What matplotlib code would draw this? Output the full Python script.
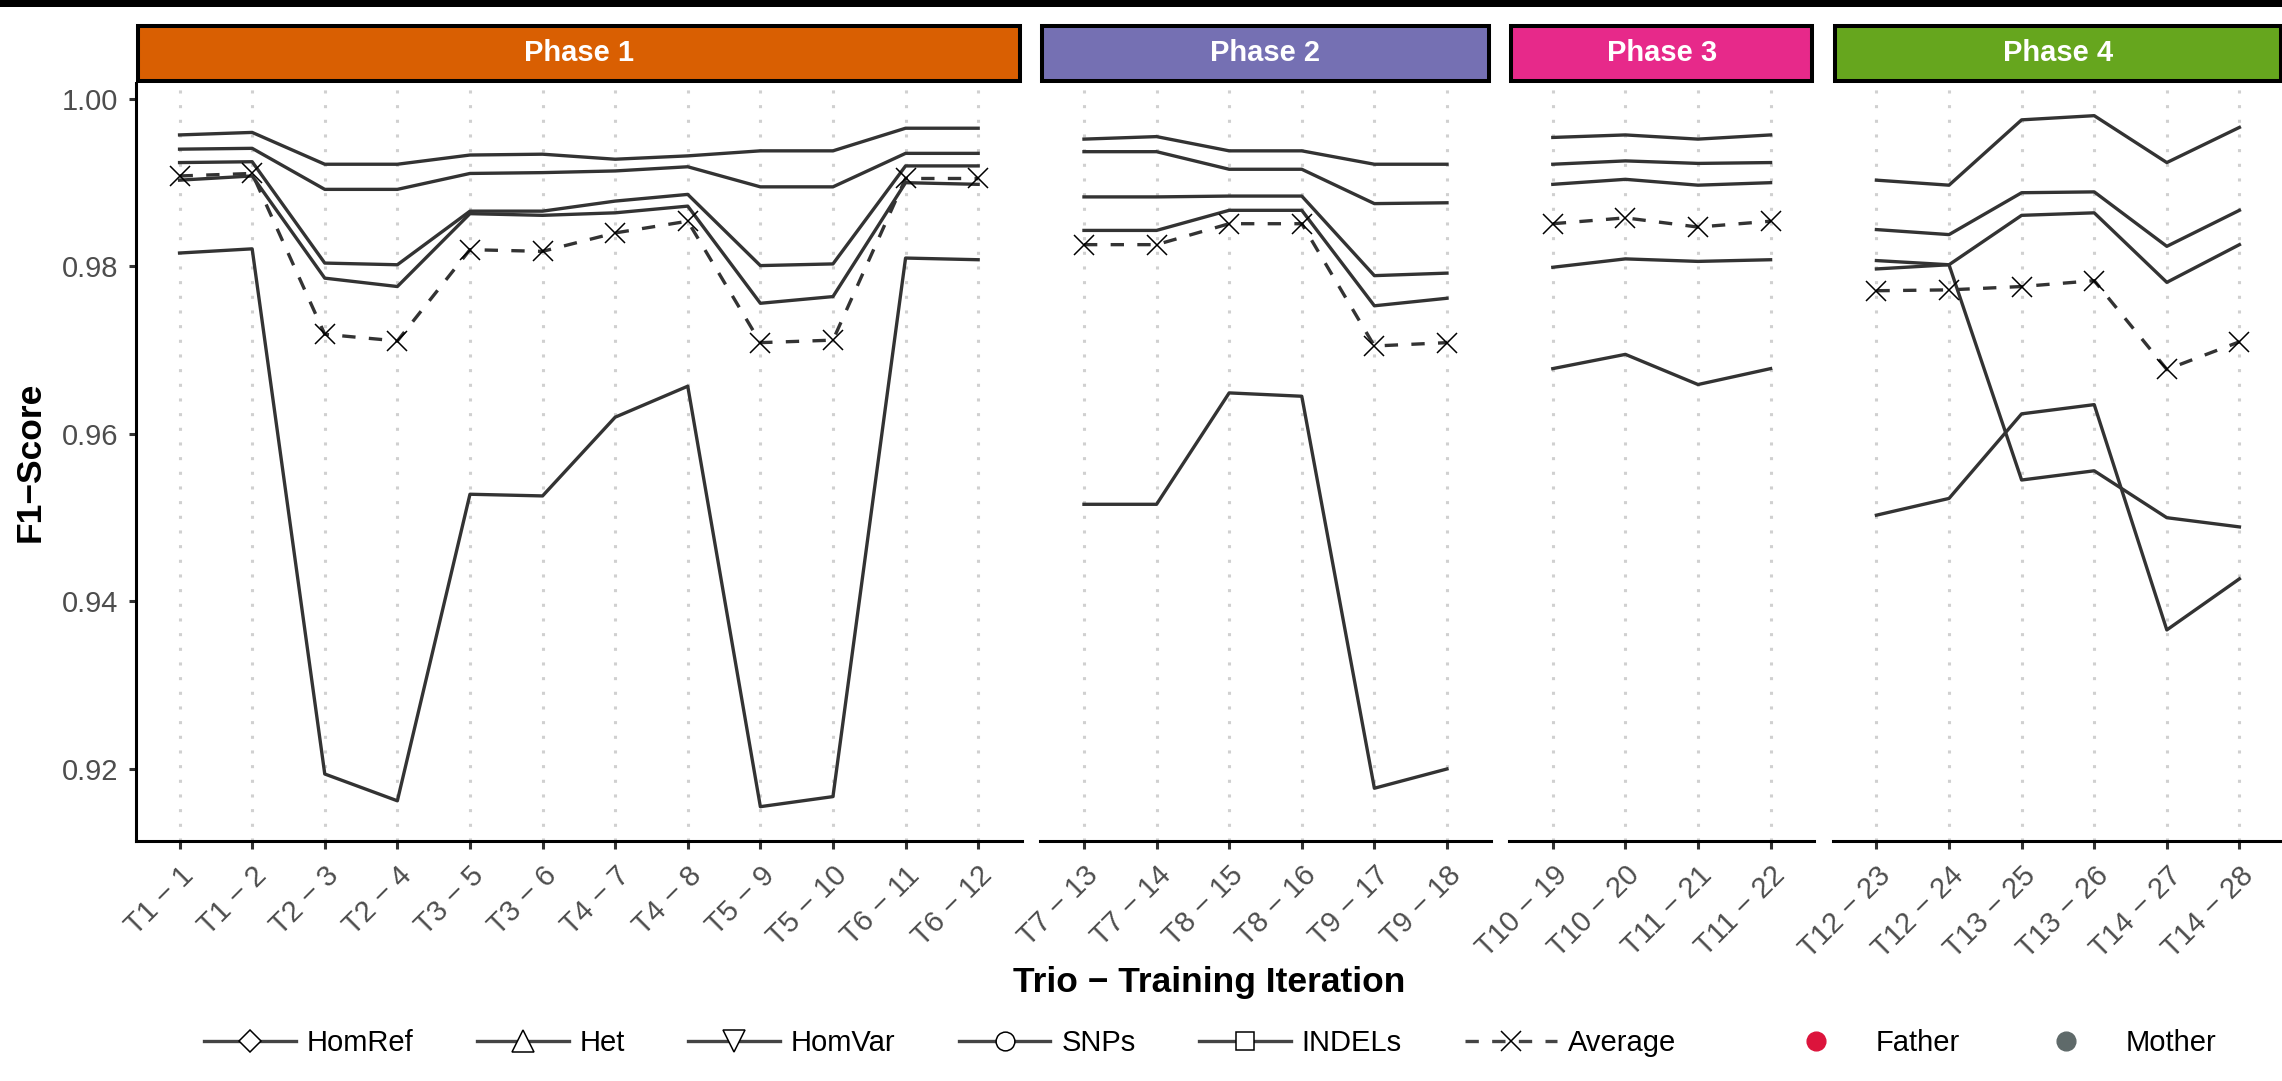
import matplotlib
matplotlib.use("Agg")
import matplotlib.pyplot as plt
from matplotlib.lines import Line2D
from matplotlib.patches import Rectangle

plt.rcParams['font.family'] = ['Liberation Sans', 'DejaVu Sans']

# facets
phases = ['Phase 1', 'Phase 2', 'Phase 3', 'Phase 4']
phase_sizes = [12, 6, 4, 6]
phase_colors = ['#D95F02', '#7570B3', '#E7298A', '#66A61E']

# x categories (trio - training iteration)
iterations = ['T1 − 1', 'T1 − 2', 'T2 − 3', 'T2 − 4', 'T3 − 5', 'T3 − 6',
              'T4 − 7', 'T4 − 8', 'T5 − 9', 'T5 − 10', 'T6 − 11', 'T6 − 12',
              'T7 − 13', 'T7 − 14', 'T8 − 15', 'T8 − 16', 'T9 − 17', 'T9 − 18',
              'T10 − 19', 'T10 − 20', 'T11 − 21', 'T11 − 22',
              'T12 − 23', 'T12 − 24', 'T13 − 25', 'T13 − 26', 'T14 − 27', 'T14 − 28']

# F1 scores
homref = [0.9957, 0.9960, 0.9922, 0.9922, 0.9933, 0.9934, 0.9928, 0.9932, 0.9938, 0.9938, 0.9965, 0.9965,
          0.9952, 0.9955, 0.9938, 0.9938, 0.9922, 0.9922,
          0.9954, 0.9957, 0.9952, 0.9957,
          0.9903, 0.9897, 0.9975, 0.9980, 0.9924, 0.9966]
het = [0.9940, 0.9941, 0.9892, 0.9892, 0.9911, 0.9912, 0.9914, 0.9919, 0.9895, 0.9895, 0.9935, 0.9935,
       0.9937, 0.9937, 0.9916, 0.9916, 0.9875, 0.9876,
       0.9922, 0.9926, 0.9923, 0.9924,
       0.9844, 0.9838, 0.9888, 0.9889, 0.9824, 0.9867]
homvar = [0.9924, 0.9925, 0.9804, 0.9802, 0.9866, 0.9866, 0.9878, 0.9886, 0.9801, 0.9803, 0.9920, 0.9920,
          0.9883, 0.9883, 0.9884, 0.9884, 0.9789, 0.9792,
          0.9898, 0.9904, 0.9897, 0.9900,
          0.9807, 0.9802, 0.9861, 0.9864, 0.9781, 0.9826]
snps = [0.9903, 0.9908, 0.9786, 0.9776, 0.9863, 0.9861, 0.9864, 0.9872, 0.9756, 0.9764, 0.9900, 0.9898,
        0.9843, 0.9843, 0.9867, 0.9867, 0.9753, 0.9762,
        0.9799, 0.9809, 0.9806, 0.9808,
        0.9797, 0.9802, 0.9545, 0.9556, 0.9500, 0.9489]
indels = [0.9816, 0.9821, 0.9194, 0.9162, 0.9528, 0.9526, 0.9620, 0.9657, 0.9155, 0.9167, 0.9810, 0.9808,
          0.9516, 0.9516, 0.9649, 0.9645, 0.9177, 0.9200,
          0.9678, 0.9695, 0.9659, 0.9678,
          0.9503, 0.9523, 0.9624, 0.9635, 0.9366, 0.9427]
average = [0.9908, 0.9911, 0.9719, 0.9711, 0.9820, 0.9818, 0.9840, 0.9854, 0.9709, 0.9712, 0.9905, 0.9905,
           0.9826, 0.9826, 0.9851, 0.9851, 0.9705, 0.9709,
           0.9851, 0.9858, 0.9847, 0.9854,
           0.9771, 0.9772, 0.9776, 0.9783, 0.9677, 0.9710]

series_names = ['HomRef', 'Het', 'HomVar', 'SNPs', 'INDELs']
series_values = [homref, het, homvar, snps, indels]
series_markers = [('D', 11), ('^', 15.5), ('v', 15.5), ('o', 13.5), ('s', 12.5)]

parents = ['Father', 'Mother']
parent_colors = ['#DC143C', '#5F6A6A']

W, H = 2282, 1081
fig = plt.figure(figsize=(W / 100, H / 100), dpi=100)

# black bar across the very top
fig.add_artist(Rectangle((0, 1 - 7 / H), 1, 7 / H, transform=fig.transFigure,
                         color='black', lw=0))

unit = 72.6      # px per category
gap = 18.7       # px between panels
left_px = 136
top_px, bottom_px = 83, 841
strip_top = 24.3
line_col = '#333333'
text_col = '#4D4D4D'

x0 = left_px
start = 0
for k, (phase, n) in enumerate(zip(phases, phase_sizes)):
    w = (n - 1 + 1.2) * unit
    ax = fig.add_axes([x0 / W, 1 - bottom_px / H, w / W, (bottom_px - top_px) / H])
    xs = list(range(n))
    for vals in series_values:
        ax.plot(xs, vals[start:start + n], color=line_col, lw=2.4,
                solid_joinstyle='round', zorder=3)
    ax.plot(xs, average[start:start + n], color=line_col, lw=2.4, ls=(0, (4, 4)),
            marker='x', ms=14, mec='black', mew=1.1, zorder=4)

    ax.set_xlim(-0.6, n - 1 + 0.6)
    ax.set_ylim(0.9114, 1.0019)
    ax.set_xticks(xs)
    ax.set_xticklabels(iterations[start:start + n])
    plt.setp(ax.get_xticklabels(), rotation=45, ha='right', va='top',
             rotation_mode='anchor')
    ax.grid(axis='x', color='#D0D0D0', lw=2.2, ls=(0, (1, 3.8)))
    ax.set_axisbelow(True)

    for s in ['top', 'right']:
        ax.spines[s].set_visible(False)
    ax.spines['bottom'].set_linewidth(2.2)
    ax.spines['bottom'].set_color('black')
    ax.tick_params(axis='x', length=5.5, width=2.2, color=line_col,
                   labelsize=21, labelcolor=text_col, pad=9)
    if k == 0:
        ax.spines['left'].set_linewidth(2.2)
        ax.spines['left'].set_color('black')
        ax.set_yticks([0.92, 0.94, 0.96, 0.98, 1.00])
        ax.set_yticklabels(['0.92', '0.94', '0.96', '0.98', '1.00'])
        ax.tick_params(axis='y', length=5, width=2.2, color=line_col,
                       labelsize=21, labelcolor=text_col, pad=8)
    else:
        ax.spines['left'].set_visible(False)
        ax.tick_params(axis='y', left=False, labelleft=False)

    # facet strip
    b = 2.0
    fig.add_artist(Rectangle(((x0 + b) / W, 1 - (top_px - b) / H),
                             (w - 2 * b) / W, (top_px - strip_top - 2 * b) / H,
                             transform=fig.transFigure, facecolor=phase_colors[k],
                             edgecolor='black', lw=2.9))
    fig.text((x0 + w / 2) / W, 1 - 53 / H, phase, color='white', fontsize=21,
             fontweight='bold', ha='center', va='center')

    x0 += w + gap
    start += n

# axis titles
fig.text(30 / W, 1 - 462 / H, 'F1−Score', rotation=90, fontsize=25.5,
         fontweight='bold', ha='center', va='center')
fig.text(1209 / W, 1 - 992 / H, 'Trio − Training Iteration', fontsize=25.5,
         fontweight='bold', ha='center', va='baseline')

# legends
handles = []
for name, (m, ms) in zip(series_names, series_markers):
    handles.append(Line2D([], [], color='#444444', lw=2.4, marker=m, ms=ms,
                          mfc='white', mec='black', mew=1.1))
handles.append(Line2D([], [], color='#444444', lw=2.4, ls=(0, (4, 4)), marker='x',
                      ms=14, mec='black', mew=1.1))
fig.legend(handles, series_names + ['Average'], loc='center left',
           bbox_to_anchor=(204 / W, 1 - 1043 / H), ncol=6, frameon=False,
           borderpad=0, borderaxespad=0, handlelength=3.15,
           handletextpad=0.38, columnspacing=2.16, fontsize=21)

p_handles = [Line2D([], [], ls='none', marker='o', ms=13.5, color=c) for c in parent_colors]
fig.legend(p_handles, parents, loc='center left',
           bbox_to_anchor=(1768 / W, 1 - 1043 / H), ncol=2, frameon=False,
           borderpad=0, borderaxespad=0, handlelength=3.3,
           handletextpad=0.38, columnspacing=2.0, fontsize=21)

fig.savefig('out.png', dpi=100, facecolor='white')
